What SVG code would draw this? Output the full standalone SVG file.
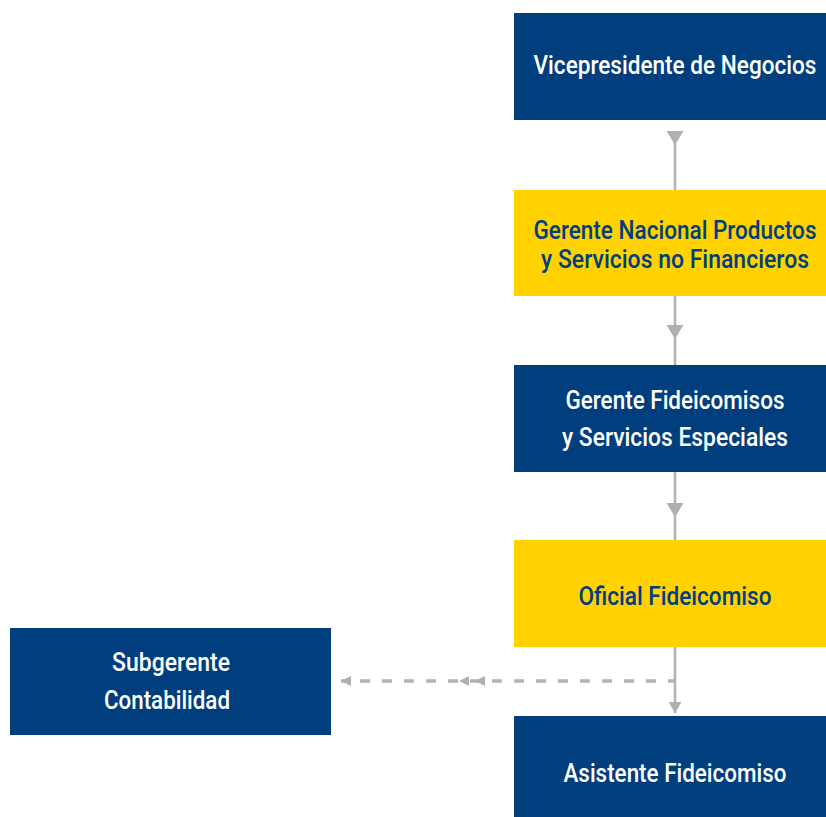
<svg xmlns="http://www.w3.org/2000/svg" width="826" height="817" viewBox="0 0 826 817">
<style>
.blue{fill:#003e7e}
.yellow{fill:#ffd200}
text{font-family:Roboto,"Liberation Sans",Arial,sans-serif;font-weight:500;font-size:25px;text-anchor:middle}
.tw{fill:#ffffff}
.tb{fill:#003e7e}
.conn{fill:none;stroke:#b3b3b3;stroke-width:2.6}
.dash{fill:none;stroke:#b3b3b3;stroke-width:3.5;stroke-dasharray:10 12;stroke-dashoffset:4}
</style>
<defs>
<marker id="tri" markerUnits="userSpaceOnUse" viewBox="0 0 14 17" refX="14" refY="8.5" markerWidth="14" markerHeight="17" orient="auto">
<path d="M0,0 L14,8.5 L0,17 z" fill="#b0b0b0"/>
</marker>
<marker id="triS" markerUnits="userSpaceOnUse" viewBox="0 0 11 13" refX="11" refY="6.5" markerWidth="11" markerHeight="13" orient="auto">
<path d="M0,0 L11,6.5 L0,13 z" fill="#b0b0b0"/>
</marker>
<marker id="triD" markerUnits="userSpaceOnUse" viewBox="0 0 10 10" refX="10" refY="5" markerWidth="10" markerHeight="10" orient="auto">
<path d="M0,0 L10,5 L0,10 z" fill="#b0b0b0"/>
</marker>
</defs>
<g id="connectors">
<path class="conn" d="M675,131 L675,145 L675,190" marker-mid="url(#tri)"/>
<path class="conn" d="M675,296 L675,339 L675,365" marker-mid="url(#tri)"/>
<path class="conn" d="M675,472 L675,517 L675,540" marker-mid="url(#tri)"/>
<path class="conn" d="M675,647 L675,713" marker-end="url(#triS)"/>
<path class="dash" d="M674,681 L475,681 L459,681 L341,681" marker-mid="url(#triD)" marker-end="url(#triD)"/>
</g>
<g id="vicepresidente">
<rect class="blue" x="514" y="13" width="312" height="107"/>
<text class="tw" x="675" y="74" textLength="283" lengthAdjust="spacingAndGlyphs">Vicepresidente de Negocios</text>
</g>
<g id="gerente-nacional">
<rect class="yellow" x="514" y="190" width="312" height="106"/>
<text class="tb" x="675" y="239" textLength="283" lengthAdjust="spacingAndGlyphs">Gerente Nacional Productos</text>
<text class="tb" x="675" y="268" textLength="268" lengthAdjust="spacingAndGlyphs">y Servicios no Financieros</text>
</g>
<g id="gerente-fideicomisos">
<rect class="blue" x="514" y="365" width="312" height="107"/>
<text class="tw" x="675" y="409" textLength="219" lengthAdjust="spacingAndGlyphs">Gerente Fideicomisos</text>
<text class="tw" x="675" y="446" textLength="226" lengthAdjust="spacingAndGlyphs">y Servicios Especiales</text>
</g>
<g id="oficial">
<rect class="yellow" x="514" y="540" width="312" height="107"/>
<text class="tb" x="675" y="605" textLength="193" lengthAdjust="spacingAndGlyphs">Oficial Fideicomiso</text>
</g>
<g id="asistente">
<rect class="blue" x="514" y="716" width="312" height="101"/>
<text class="tw" x="675" y="782" textLength="223" lengthAdjust="spacingAndGlyphs">Asistente Fideicomiso</text>
</g>
<g id="subgerente">
<rect class="blue" x="10" y="628" width="321" height="107"/>
<text class="tw" x="171" y="671" textLength="118" lengthAdjust="spacingAndGlyphs">Subgerente</text>
<text class="tw" x="167" y="709" textLength="126" lengthAdjust="spacingAndGlyphs">Contabilidad</text>
</g>
</svg>
